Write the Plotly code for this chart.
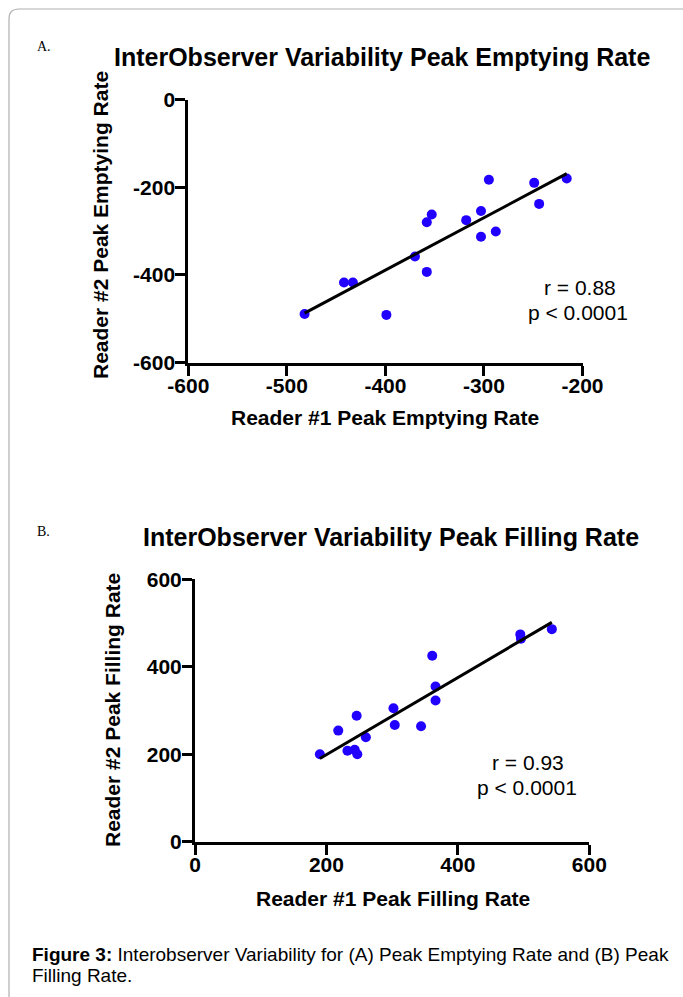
import numpy as np
import plotly.graph_objects as go

# ---- Data ----
emp_reader1 = [-482, -442, -433, -399, -370, -358, -358, -353, -318, -303, -303, -288, -295, -249, -244, -216]
emp_reader2 = [-489, -417, -417, -491, -358, -393, -280, -262, -275, -254, -313, -301, -183, -190, -238, -180]

fill_reader1 = [190, 218, 232, 243, 247, 246, 260, 302, 304, 344, 361, 366, 366, 495, 496, 543]
fill_reader2 = [200, 254, 208, 210, 200, 288, 239, 305, 267, 264, 425, 355, 323, 474, 464, 486]

emp_xticks = [-600, -500, -400, -300, -200]
emp_xtick_labels = ["-600", "-500", "-400", "-300", "-200"]
emp_yticks = [-600, -400, -200, 0]
emp_ytick_labels = ["-600", "-400", "-200", "0"]
fill_xticks = [0, 200, 400, 600]
fill_yticks = [0, 200, 400, 600]

stats_a = ["r = 0.88", "p < 0.0001"]
stats_b = ["r = 0.93", "p < 0.0001"]

W, H = 683, 997
FONT = "Liberation Sans, Arial, sans-serif"
BLUE = "#2200ff"


def px(x):
    return x / W


def py(y):
    return 1 - y / H


def fit_line(xs, ys):
    xs = np.asarray(xs, float)
    ys = np.asarray(ys, float)
    m, b = np.polyfit(xs, ys, 1)
    xx = np.array([xs.min(), xs.max()])
    return xx, m * xx + b


fig = go.Figure()

fig.add_trace(go.Scatter(x=emp_reader1, y=emp_reader2, mode="markers",
                         marker=dict(color=BLUE, size=10, line=dict(width=0)),
                         xaxis="x", yaxis="y", showlegend=False))
lx, ly = fit_line(emp_reader1, emp_reader2)
fig.add_trace(go.Scatter(x=lx, y=ly, mode="lines", line=dict(color="black", width=3),
                         xaxis="x", yaxis="y", showlegend=False))

fig.add_trace(go.Scatter(x=fill_reader1, y=fill_reader2, mode="markers",
                         marker=dict(color=BLUE, size=10, line=dict(width=0)),
                         xaxis="x2", yaxis="y2", showlegend=False))
lx2, ly2 = fit_line(fill_reader1, fill_reader2)
fig.add_trace(go.Scatter(x=lx2, y=ly2, mode="lines", line=dict(color="black", width=3),
                         xaxis="x2", yaxis="y2", showlegend=False))

tickfont = dict(family=FONT, size=21, color="black", weight="bold")
axis_common = dict(showline=True, linecolor="black", linewidth=3, ticks="outside",
                   ticklen=10, tickwidth=3, tickcolor="black", showgrid=False,
                   zeroline=False, tickfont=tickfont, fixedrange=True, automargin=False)
xstand = dict(ticklabelstandoff=-8)
ystand = dict(ticklabelstandoff=-4)

fig.update_layout(
    template="none",
    width=W, height=H, autosize=False,
    margin=dict(l=0, r=0, t=0, b=0, pad=0),
    paper_bgcolor="white", plot_bgcolor="white",
    xaxis=dict(domain=[px(188.3), px(582.5)], range=[-600, -200], tickvals=emp_xticks,
               ticktext=emp_xtick_labels, anchor="y", **xstand, **axis_common),
    yaxis=dict(domain=[py(362.7), py(99.5)], range=[-600, 0], tickvals=emp_yticks,
               ticktext=emp_ytick_labels, anchor="x", **ystand, **axis_common),
    xaxis2=dict(domain=[px(195), px(589.3)], range=[0, 600], tickvals=fill_xticks,
                anchor="y2", **xstand, **axis_common),
    yaxis2=dict(domain=[py(841.7), py(579.3)], range=[0, 600], tickvals=fill_yticks,
                anchor="x2", **ystand, **axis_common),
)


def ann(x, y, text, size, bold=False, family=FONT, angle=0, xanchor="center"):
    fig.add_annotation(x=px(x), y=py(y), xref="paper", yref="paper", text=text,
                       showarrow=False, xanchor=xanchor, yanchor="middle", textangle=angle,
                       font=dict(family=family, size=size, color="black",
                                 weight="bold" if bold else "normal"))


ann(35, 47, "A.", 14, family="Liberation Serif, Times New Roman, serif", xanchor="left")
ann(381.5, 57, "InterObserver Variability Peak Emptying Rate", 25, bold=True)
ann(385, 418, "Reader #1 Peak Emptying Rate", 21, bold=True)
ann(100, 225, "Reader #2 Peak Emptying Rate", 21, bold=True, angle=-90)
ann(580, 287, stats_a[0], 21)
ann(578, 312, stats_a[1], 21)

ann(35, 531, "B.", 14, family="Liberation Serif, Times New Roman, serif", xanchor="left")
ann(391.5, 537, "InterObserver Variability Peak Filling Rate", 25, bold=True)
ann(393, 898, "Reader #1 Peak Filling Rate", 21, bold=True)
ann(112, 710, "Reader #2 Peak Filling Rate", 21, bold=True, angle=-90)
ann(528, 762, stats_b[0], 21)
ann(527, 787, stats_b[1], 21)

ann(30, 954, "<b>Figure 3:</b> Interobserver Variability for (A) Peak Emptying Rate and (B) Peak",
    19, xanchor="left")
ann(30, 975, "Filling Rate.", 19, xanchor="left")

r = 10
path = (f"M {px(9)},{py(1005)} L {px(9)},{py(9 + r)} "
        f"Q {px(9)},{py(9)} {px(9 + r)},{py(9)} L {px(690)},{py(9)}")
fig.add_shape(type="path", path=path, xref="paper", yref="paper",
              line=dict(color="#b0b0b0", width=1.2))

fig.write_html("out.html")
